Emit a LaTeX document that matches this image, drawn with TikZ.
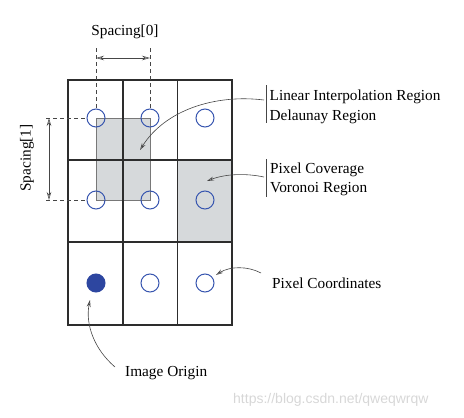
\documentclass[tikz,border=0pt]{standalone}
\usepackage{fontspec}
\setmainfont{Liberation Serif}
\newfontfamily\wmfont{Liberation Sans}
\usetikzlibrary{arrows.meta}
\definecolor{gridline}{RGB}{45,45,45}
\definecolor{ptblue}{RGB}{55,85,175}
\definecolor{ptfill}{RGB}{45,70,160}
\definecolor{cellgray}{RGB}{214,217,219}
\definecolor{boxgray}{RGB}{120,120,120}
\definecolor{arrowgray}{RGB}{70,70,70}
\definecolor{wmgray}{RGB}{215,215,215}
\begin{document}
\begin{tikzpicture}[x=1pt,y=-1pt,
  lbl/.style={font=\fontsize{15.3}{18}\selectfont, inner sep=0pt, anchor=west},
  pix/.style={circle, draw=ptblue, line width=1pt, minimum size=18pt, inner sep=0pt},
  pixorigin/.style={circle, fill=ptfill, draw=ptfill, line width=1pt, minimum size=18pt, inner sep=0pt},
  cellline/.style={draw=gridline, line width=1.2pt},
  guide/.style={draw=arrowgray, dashed, dash pattern=on 4pt off 3pt, line width=0.6pt},
  dimarrow/.style={draw=arrowgray, line width=0.6pt, {Stealth[length=8pt,width=4.5pt,open]}-{Stealth[length=8pt,width=4.5pt,open]}},
  callout/.style={draw=arrowgray, line width=0.6pt, -{Stealth[length=7pt,width=4pt,open]}},
  bar/.style={draw=arrowgray, line width=0.6pt}]
\useasboundingbox (0,0) rectangle (464,418);
% shaded regions
\fill[cellgray] (177.7,160) rectangle (232,242);
\filldraw[fill=cellgray, draw=boxgray, line width=0.9pt] (96,118) rectangle (150,200);
% grid
\draw[cellline] (68,80) rectangle (232,325);
\draw[cellline] (123,80) -- (123,325);
\draw[cellline] (177.7,80) -- (177.7,325);
\draw[cellline] (68,160) -- (232,160);
\draw[cellline] (68,242) -- (232,242);
% pixel centres
\node[pix] (p00) at (96,118) {};
\node[pix] (p01) at (150,118) {};
\node[pix] (p02) at (205,118) {};
\node[pix] (p10) at (96,200) {};
\node[pix] (p11) at (150,200) {};
\node[pix] (p12) at (205,200) {};
\node[pixorigin] (p20) at (96,283) {};
\node[pix] (p21) at (150,283) {};
\node[pix] (p22) at (205,283) {};
% spacing guides
\coordinate (g0) at (96,48);
\coordinate (g1) at (150,48);
\coordinate (h0) at (46,118);
\coordinate (h1) at (46,200);
\draw[guide] (g0) -- (p00.north);
\draw[guide] (g1) -- (p01.north);
\draw[guide] (h0) -- (p00.west);
\draw[guide] (h1) -- (p10.west);
\coordinate (s0a) at (96,58);
\coordinate (s0b) at (150,58);
\coordinate (s1a) at (49,118);
\coordinate (s1b) at (49,200);
\draw[dimarrow] (s0a) -- (s0b);
\draw[dimarrow] (s1a) -- (s1b);
\node[lbl, anchor=center] (sp0) at (125,32) {Spacing[0]};
\node[lbl, anchor=center, rotate=90] (sp1) at (27,158) {Spacing[1]};
% right labels
\node[lbl, anchor=base west] (lin) at (269.5,100.7) {Linear Interpolation Region};
\node[lbl, anchor=base west] (del) at (269.5,120.5) {Delaunay Region};
\draw[bar] (266.5,85) -- (266.5,123);
\node[lbl] (cov) at (270,170) {Pixel Coverage};
\node[lbl] (vor) at (270,189) {Voronoi Region};
\draw[bar] (266.5,159) -- (266.5,197);
\node[lbl] (coords) at (272,283) {Pixel Coordinates};
\node[lbl] (orig) at (125,373) {Image Origin};
% callouts
\coordinate (linstart) at (264,100);
\coordinate (lintip) at (140,150);
\draw[callout] (linstart) .. controls (215,94) and (165,110) .. (lintip);
\coordinate (covstart) at (264,177);
\coordinate (covtip) at (207,181);
\draw[callout] (covstart) .. controls (245,173) and (225,174) .. (covtip);
\coordinate (coostart) at (261,273);
\coordinate (cootip) at (216,275);
\draw[callout] (coostart) .. controls (248,266) and (230,266) .. (cootip);
\coordinate (orstart) at (115,367);
\coordinate (ortip) at (90,300);
\draw[callout] (orstart) .. controls (95,350) and (85,325) .. (ortip);
% watermark
\node[font=\wmfont\fontsize{14}{16}\selectfont, text=wmgray, inner sep=0pt, anchor=west] (wm) at (233,400) {https://blog.csdn.net/qweqwrqw};
\end{tikzpicture}
\end{document}
